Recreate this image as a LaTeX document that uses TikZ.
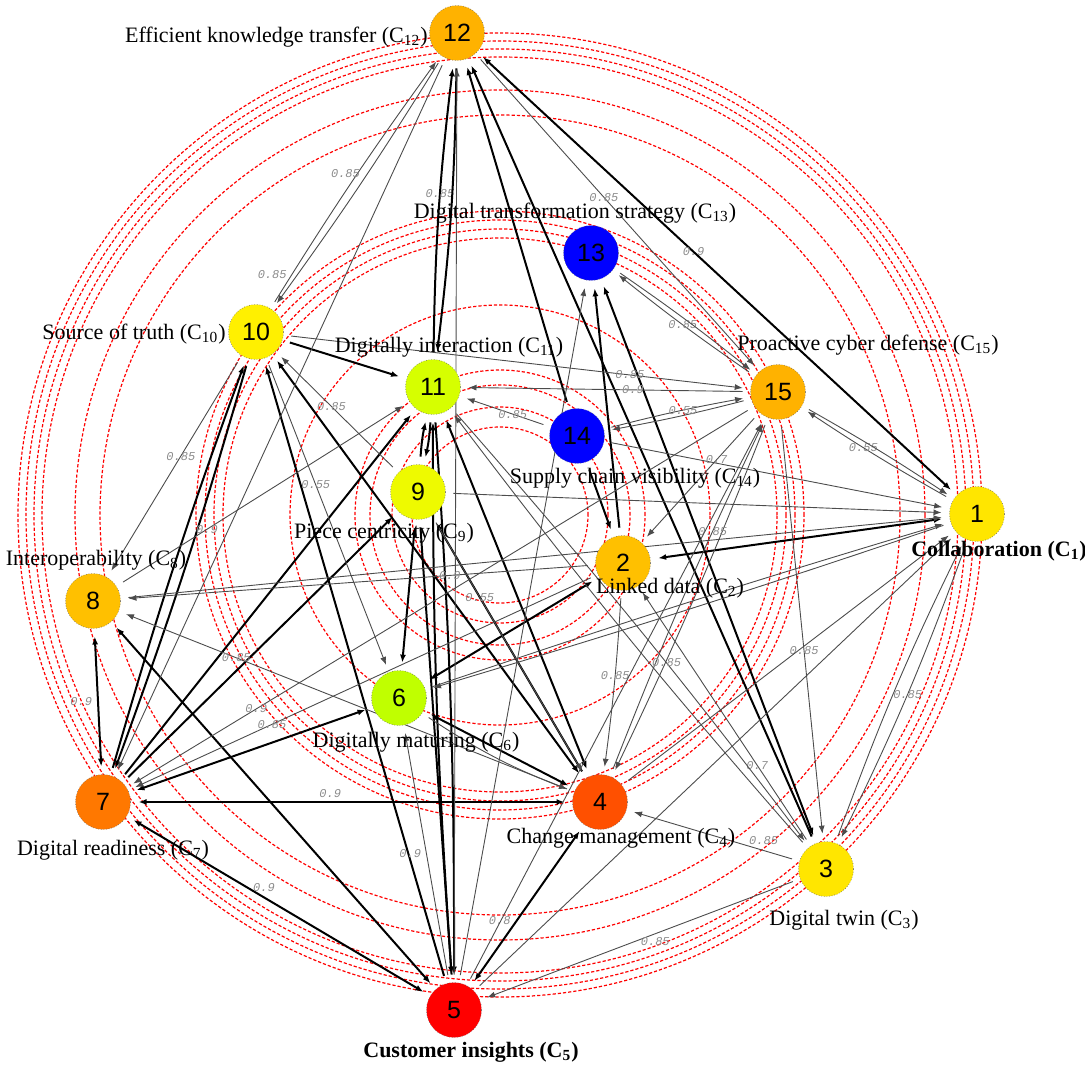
\documentclass[tikz,border=0pt]{standalone}
\usepackage{fontspec}
\setmainfont{Liberation Serif}
\newfontfamily\numfont{Liberation Sans}
\newfontfamily\wfont{Liberation Mono}
\usetikzlibrary{arrows.meta,backgrounds}

\definecolor{cyel}{RGB}{255,230,0}
\definecolor{cyelg}{RGB}{238,250,0}
\definecolor{cyelw}{RGB}{255,240,0}
\definecolor{corg}{RGB}{255,192,0}
\definecolor{corgd}{RGB}{255,178,0}
\definecolor{cdeep}{RGB}{255,120,0}
\definecolor{cver}{RGB}{255,80,0}
\definecolor{cred}{RGB}{255,0,0}
\definecolor{clime}{RGB}{192,255,0}
\definecolor{climel}{RGB}{214,255,0}
\definecolor{cblue}{RGB}{0,0,255}

\begin{document}
\begin{tikzpicture}[
  x=0.5pt, y=-0.5pt,
  >={Latex[length=4pt,width=3pt]},
  concept/.style={circle, draw=black!60, densely dotted, line width=0.3pt,
    minimum size=27.5pt, inner sep=0pt, outer sep=4pt,
    font=\numfont\fontsize{12.5}{14}\selectfont},
  caption/.style={inner sep=0pt, font=\fontsize{11}{13}\selectfont},
  ring/.style={red, line width=0.6pt, dash pattern=on 1.6pt off 1pt},
  weak/.style={draw=black!70, line width=0.45pt, ->},
  strong/.style={draw=black, line width=1pt, ->},
  wlab/.style={inner sep=0.5pt, text=black!45,
    font=\wfont\itshape\fontsize{6}{6}\selectfont}
]
\useasboundingbox (0,0) rectangle (1085,1068);
\coordinate (ctr) at (500,515);

% concepts
\node[concept, fill=cyel]   (n1)  at (977,514)  {1};
\node[concept, fill=corg]   (n2)  at (623,563)  {2};
\node[concept, fill=cyel]   (n3)  at (826,869)  {3};
\node[concept, fill=cver]   (n4)  at (600,802)  {4};
\node[concept, fill=cred]   (n5)  at (454,1010) {5};
\node[concept, fill=clime]  (n6)  at (399,698)  {6};
\node[concept, fill=cdeep]  (n7)  at (103,802)  {7};
\node[concept, fill=corg]   (n8)  at (93,601)   {8};
\node[concept, fill=cyelg]  (n9)  at (418,492)  {9};
\node[concept, fill=cyelw]  (n10) at (256,332)  {10};
\node[concept, fill=climel] (n11) at (433,387)  {11};
\node[concept, fill=corgd]  (n12) at (457,33)   {12};
\node[concept, fill=cblue]  (n13) at (591,253)  {13};
\node[concept, fill=cblue]  (n14) at (577,436)  {14};
\node[concept, fill=corgd]  (n15) at (778,392)  {15};

% captions
\node[caption, anchor=east] (t12) at (428,37) {Efficient knowledge transfer (C\textsubscript{12})};
\node[caption] (t13) at (575,213) {Digital transformation strategy (C\textsubscript{13})};
\node[caption, anchor=east] (t10) at (226,334) {Source of truth (C\textsubscript{10})};
\node[caption] (t11) at (449,347) {Digitally interaction (C\textsubscript{11})};
\node[caption] (t15) at (868,345) {Proactive cyber defense (C\textsubscript{15})};
\node[caption] (t14) at (635,478) {Supply chain visibility (C\textsubscript{14})};
\node[caption] (t9)  at (384,533) {Piece centricity (C\textsubscript{9})};
\node[caption] (t1)  at (999,551) {\textbf{Collaboration (C\textsubscript{1})}};
\node[caption] (t2)  at (670,588) {Linked data (C\textsubscript{2})};
\node[caption] (t8)  at (96,560)  {Interoperability (C\textsubscript{8})};
\node[caption] (t6)  at (416,742) {Digitally maturing (C\textsubscript{6})};
\node[caption] (t4)  at (621,838) {Change management (C\textsubscript{4})};
\node[caption] (t7)  at (113,850) {Digital readiness (C\textsubscript{7})};
\node[caption] (t3)  at (844,920) {Digital twin (C\textsubscript{3})};
\node[caption] (t5)  at (471,1052) {\textbf{Customer insights (C\textsubscript{5})}};

\begin{pgfonlayer}{background}
% rings
\foreach \r in {88,108,130,145,210,277,286,295,304,400,425,458,466,474,482}
  \draw[ring] (ctr) circle[radius=\r*0.5pt];

% strong links
\draw[strong] (n11) to[bend left=3] node[wlab,pos=.56]{0.85} (n12);
\draw[strong] (n12) to[bend left=3] (n11);
\draw[strong] (n14) -- (n12);
\draw[strong] (n3) -- (n12);
\draw[strong,<->] (n12) -- node[wlab,pos=.45]{0.9} (n1);
\draw[strong,<->] (n3) -- (n13);
\draw[strong] (n2) -- (n13);
\draw[strong] (n14) -- (n2);
\draw[strong,<->] (n1) -- (n2);
\draw[strong,<->] (n2) -- (n6);
\draw[strong] (n10) -- (n11);
\draw[strong,<->] (n10) -- (n4);
\draw[strong] (n5) -- (n10);
\draw[strong] (n7) to[bend left=2] (n10);
\draw[strong] (n10) to[bend left=2] (n7);
\draw[strong] (n7) -- (n11);
\draw[strong] (n9) to[bend left=4] (n11);
\draw[strong] (n11) to[bend left=4] (n9);
\draw[strong,<->] (n9) -- (n6);
\draw[strong] (n7) -- (n9);
\draw[strong] (n4) -- (n9);
\draw[strong,<->] (n6) -- (n7);
\draw[strong,<->] (n6) -- (n4);
\draw[strong,<->] (n4) -- node[wlab,pos=.55,above=1pt]{0.9} (n7);
\draw[strong,<->] (n5) -- node[wlab,pos=.55,above=2pt]{0.9} (n7);
\draw[strong,<->] (n8) -- node[wlab,left=2pt]{0.9} (n7);
\draw[strong,<->] (n8) -- (n5);
\draw[strong,<->] (n4) -- node[wlab,pos=.6,left=2pt]{0.8} (n5);
\draw[strong,<->] (n11) -- (n4);
\draw[strong] (n11) to[bend left=2] (n5);
\draw[strong] (n5) to[bend left=2] (n11);
\draw[strong] (n9) -- (n5);

% weak links
\draw[weak] (n10) to[bend left=2] node[wlab,pos=.1,left=2pt]{0.85} (n12);
\draw[weak] (n12) to[bend left=2] node[wlab,pos=.45,left=3pt]{0.85} (n10);
\draw[weak] (n12) -- (n7);
\draw[weak] (n5) -- (n12);
\draw[weak] (n12) -- node[wlab,pos=.45]{0.85} (n15);
\draw[weak] (n15) to[bend left=2] node[wlab]{0.85} (n13);
\draw[weak] (n13) to[bend left=2] (n15);
\draw[weak] (n5) -- (n13);
\draw[weak] (n14) -- node[wlab,pos=.4]{0.85} (n11);
\draw[weak] (n14) -- (n1);
\draw[weak] (n15) to[bend left=2] (n14);
\draw[weak] (n14) to[bend left=2] node[wlab,pos=.55]{0.55} (n15);
\draw[weak] (n10) -- node[wlab,pos=.75]{0.85} (n15);
\draw[weak] (n15) -- node[wlab,pos=.4]{0.9} (n11);
\draw[weak] (n15) -- node[wlab,pos=.35]{0.7} (n2);
\draw[weak] (n15) to[bend left=2] (n4);
\draw[weak] (n4) to[bend left=2] node[wlab,pos=.7]{0.85} (n15);
\draw[weak] (n15) -- node[wlab,pos=.55]{0.85} (n3);
\draw[weak] (n1) to[bend left=2] node[wlab,pos=.6]{0.55} (n15);
\draw[weak] (n15) to[bend left=2] (n1);
\draw[weak] (n9) -- (n1);
\draw[weak] (n8) -- (n1);
\draw[weak] (n6) to[bend left=1] (n1);
\draw[weak] (n1) to[bend left=1] (n6);
\draw[weak] (n3) to[bend left=3] (n1);
\draw[weak] (n1) to[bend left=3] node[wlab,pos=.5]{0.85} (n3);
\draw[weak] (n5) -- (n1);
\draw[weak] (n4) -- (n1);
\draw[weak] (n3) -- node[wlab,pos=.3]{0.7} (n2);
\draw[weak] (n2) to[bend left=2] node[wlab,pos=.45]{0.85} (n4);
\draw[weak] (n2) -- node[wlab,pos=.3]{0.9} (n8);
\draw[weak] (n2) -- node[wlab,pos=.7]{0.85} (n7);
\draw[weak] (n10) -- node[wlab,pos=.4]{0.55} (n6);
\draw[weak] (n10) -- node[wlab,pos=.45]{0.85} (n8);
\draw[weak] (n9) -- node[wlab,pos=.55]{0.85} (n10);
\draw[weak] (n3) to[bend left=2] (n11);
\draw[weak] (n11) to[bend left=2] node[wlab,pos=.6]{0.85} (n3);
\draw[weak] (n8) -- node[wlab,pos=.3]{0.9} (n11);
\draw[weak] (n4) -- node[wlab,pos=.75]{0.85} (n8);
\draw[weak] (n6) to[bend right=6] (n4);
\draw[weak] (n5) -- node[wlab,pos=.5,left=2pt]{0.9} (n6);
\draw[weak] (n3) -- node[wlab,pos=.45,below=1pt]{0.85} (n5);
\draw[weak] (n3) -- node[wlab,pos=.18,above=2pt]{0.85} (n4);
\draw[weak] (n15) -- node[wlab,pos=.8]{0.9} (n7);
\draw[weak] (n5) -- (n15);
\draw[weak] (n9) -- node[wlab,pos=.3]{0.55} (n4);
\end{pgfonlayer}
\end{tikzpicture}
\end{document}
